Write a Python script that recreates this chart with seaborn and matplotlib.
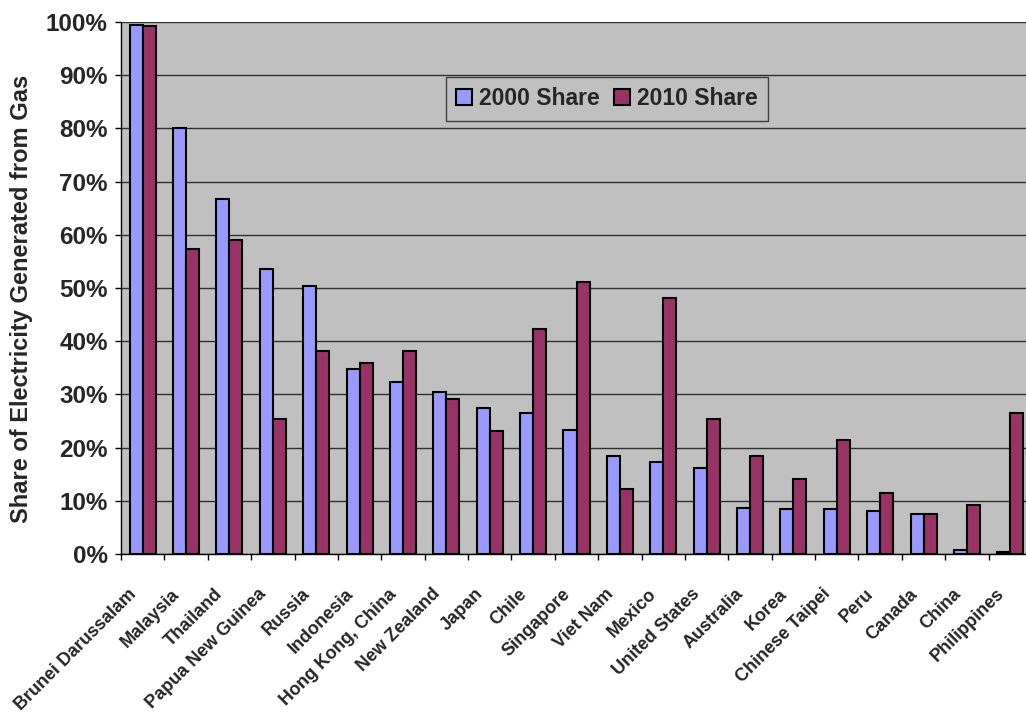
import numpy as np
import pandas as pd
import matplotlib
matplotlib.use("Agg")
import matplotlib.pyplot as plt
import matplotlib.transforms as mtransforms
import seaborn as sns

countries = ["Brunei Darussalam", "Malaysia", "Thailand", "Papua New Guinea", "Russia",
             "Indonesia", "Hong Kong, China", "New Zealand", "Japan", "Chile", "Singapore",
             "Viet Nam", "Mexico", "United States", "Australia", "Korea", "Chinese Taipei",
             "Peru", "Canada", "China", "Philippines"]
share_2000 = [99.5, 80.0, 66.8, 53.5, 50.4, 34.7, 32.3, 30.4, 27.4, 26.5, 23.4,
              18.4, 17.2, 16.2, 8.7, 8.4, 8.4, 8.0, 7.6, 0.8, 0.3]
share_2010 = [99.2, 57.4, 59.0, 25.4, 38.1, 35.9, 38.1, 29.2, 23.1, 42.3, 51.2,
              12.3, 48.2, 25.4, 18.4, 14.1, 21.5, 11.5, 7.6, 9.2, 26.5]
series_names = ["2000 Share", "2010 Share"]
y_ticks = [0, 10, 20, 30, 40, 50, 60, 70, 80, 90, 100]
y_tick_labels = ["0%", "10%", "20%", "30%", "40%", "50%", "60%", "70%", "80%", "90%", "100%"]
y_label = "Share of Electricity Generated from Gas"

df = pd.DataFrame({
    "country": countries * 2,
    "share": share_2000 + share_2010,
    "series": [series_names[0]] * len(countries) + [series_names[1]] * len(countries),
})

sns.set_style("white")
plt.rcParams["font.family"] = ["Liberation Sans", "DejaVu Sans"]
plt.rcParams["font.weight"] = "bold"
plt.rcParams["axes.labelweight"] = "bold"

fig = plt.figure(figsize=(10.26, 7.14), dpi=100)
ax = fig.add_axes([121 / 1026, 160 / 714, 911 / 1026, 532 / 714])
ax.set_facecolor("#C0C0C0")

sns.barplot(data=df, x="country", y="share", hue="series", hue_order=series_names,
            order=countries, palette=["#9999FF", "#993366"], width=0.6,
            edgecolor="black", linewidth=1.5, saturation=1, ax=ax, errorbar=None)

ax.set_axisbelow(True)
ax.set_ylim(0, 100)
ax.set_xlim(-0.5, len(countries) - 0.5)
ax.set_yticks(y_ticks)
ax.set_yticklabels(y_tick_labels, fontsize=17.5, fontweight="bold")
ax.yaxis.grid(True, color="#303030", linewidth=1.0)
ax.xaxis.grid(False)

for s in ["top", "right"]:
    ax.spines[s].set_visible(False)
ax.spines["left"].set_color("black")
ax.spines["bottom"].set_color("black")
ax.spines["left"].set_linewidth(1.0)
ax.spines["bottom"].set_linewidth(1.0)

ax.tick_params(axis="y", which="major", length=4.5, width=1, color="black", pad=5, left=True)
ax.set_xticks(np.arange(-0.5, len(countries), 1), minor=True)
ax.tick_params(axis="x", which="minor", length=4.5, width=1, color="black", bottom=True)
ax.tick_params(axis="x", which="major", length=0, pad=27)
ax.set_xlabel("")
labels = ax.get_xticklabels()
offset = mtransforms.ScaledTranslation(-9 / 100, 0, fig.dpi_scale_trans)
for lab in labels:
    lab.set_rotation(45)
    lab.set_ha("right")
    lab.set_va("center")
    lab.set_rotation_mode("anchor")
    lab.set_fontsize(13)
    lab.set_fontweight("bold")
    lab.set_transform(lab.get_transform() + offset)

ax.set_ylabel(y_label, fontsize=17, fontweight="bold")
ax.yaxis.label.set_fontweight("bold")
ax.yaxis.set_label_coords(-0.097, 0.479)

handles, leg_labels = ax.get_legend_handles_labels()
leg = ax.legend(handles, leg_labels, loc="upper left", bbox_to_anchor=(325 / 911, 477 / 532),
                ncol=2, fontsize=16.5, frameon=True, fancybox=False, framealpha=1,
                facecolor="#C0C0C0", edgecolor="#404040", borderaxespad=0,
                handlelength=0.7, handleheight=0.7, handletextpad=0.3,
                columnspacing=0.6, borderpad=0.45)
leg.get_frame().set_linewidth(1.0)
for t in leg.get_texts():
    t.set_fontweight("bold")

fig.savefig("out.png", dpi=100)
